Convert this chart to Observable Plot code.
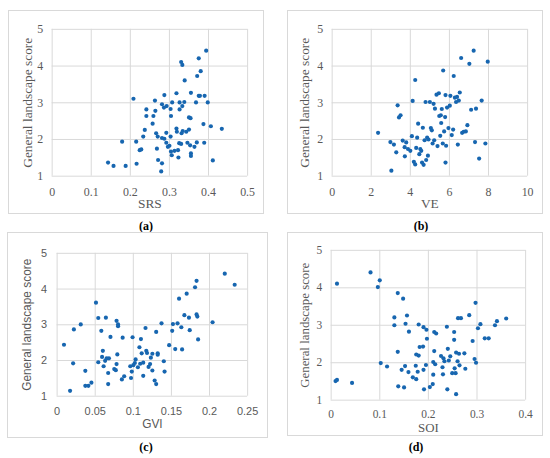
<!DOCTYPE html>
<html>
<head>
<meta charset="utf-8">
<script src="https://cdn.jsdelivr.net/npm/d3@7"></script>
<script src="https://cdn.jsdelivr.net/npm/@observablehq/plot@0.6"></script>
<style>
  html, body { margin: 0; padding: 0; background: #fff; }
  #root { position: relative; width: 550px; height: 458px; overflow: hidden; background: #fff; }
  .panel { position: absolute; border: 1px solid #d9d9d9; box-sizing: border-box; background: #fff; }
  .panel svg { position: absolute; left: -1px; top: -1px; }
  .tag { position: absolute; width: 60px; text-align: center; font-family: "Liberation Serif", serif; font-weight: bold; font-size: 12px; color: #000; }
</style>
</head>
<body>
<div id="root"></div>
<script>
// ---------- data ----------
const yTicks = [1, 2, 3, 4, 5];
const yLabel = "General landscape score";

// (a) SRS
const srsTicks = [0, 0.1, 0.2, 0.3, 0.4, 0.5];
const srsX = [0.143,0.157,0.188,0.179,0.208,0.215,0.216,0.224,0.228,0.233,0.237,0.241,0.241,0.257,0.259,0.263,0.264,0.266,0.270,0.268,0.271,0.281,0.279,0.281,0.281,0.287,0.286,0.287,0.292,0.292,0.293,0.296,0.300,0.303,0.303,0.304,0.304,0.306,0.307,0.313,0.318,0.318,0.319,0.322,0.323,0.325,0.326,0.326,0.330,0.331,0.330,0.333,0.333,0.334,0.338,0.339,0.343,0.346,0.350,0.350,0.354,0.353,0.355,0.355,0.355,0.364,0.368,0.370,0.371,0.375,0.375,0.378,0.380,0.387,0.389,0.390,0.394,0.398,0.406,0.411,0.434];
const srsY = [1.37,1.28,1.28,1.94,3.11,1.94,1.34,1.71,1.73,2.08,2.26,2.82,2.64,2.43,2.64,3.06,2.78,2.17,2.08,1.75,1.44,1.35,1.13,2.96,2.04,3.21,2.87,2.02,2.18,1.91,2.91,1.80,1.83,2.08,2.83,2.64,1.67,1.57,3.01,1.69,3.26,2.30,2.21,1.71,1.51,1.90,3.01,2.82,1.88,2.17,4.11,4.03,2.91,2.23,3.02,3.61,2.21,1.91,2.27,2.60,2.58,1.84,1.62,1.55,3.27,1.80,3.01,1.92,3.73,4.21,3.19,3.19,3.86,2.42,1.91,3.19,4.42,3.01,2.36,1.43,2.29];

// (b) VE
const veTicks = [0, 2, 4, 6, 8, 10];
const veX = [2.35,3.03,2.98,3.16,3.28,3.35,3.42,3.50,3.61,3.71,3.72,3.79,3.88,4.00,4.08,4.12,4.18,4.25,4.25,4.30,4.35,4.40,4.46,4.51,4.56,4.60,4.64,4.68,4.73,4.78,4.81,4.86,4.90,4.93,5.00,5.05,5.10,5.14,5.19,5.22,5.26,5.34,5.39,5.46,5.48,5.53,5.56,5.58,5.61,5.66,5.68,5.73,5.78,5.80,5.80,5.83,5.88,5.95,6.02,6.05,6.12,6.19,6.22,6.28,6.34,6.39,6.43,6.48,6.53,6.60,6.65,6.73,6.84,6.92,7.02,7.11,7.24,7.31,7.36,7.52,7.65,7.84,7.96];
const veY = [2.18,1.15,1.93,1.86,1.65,2.93,2.60,2.66,1.97,1.79,1.54,1.92,1.74,1.69,2.09,3.05,1.39,1.32,3.62,1.77,2.05,2.43,1.60,1.74,1.69,1.37,2.32,1.31,1.98,3.02,1.44,2.05,1.56,2.00,3.02,2.31,2.25,1.89,2.97,1.98,2.84,3.22,1.82,3.26,2.64,2.10,2.66,2.45,2.83,1.89,3.88,2.22,2.61,3.21,1.37,1.83,2.87,2.31,2.92,3.19,2.12,2.27,3.73,3.14,3.02,3.16,1.86,3.06,3.28,4.22,2.18,2.21,2.22,2.39,4.06,2.81,4.42,1.93,2.84,1.48,3.06,1.89,4.12];

// (c) GVI
const gviTicks = [0, 0.05, 0.1, 0.15, 0.2, 0.25];
const gviX = [0.009,0.017,0.021,0.022,0.031,0.037,0.037,0.041,0.045,0.051,0.054,0.054,0.058,0.059,0.060,0.061,0.063,0.064,0.065,0.067,0.067,0.068,0.070,0.075,0.077,0.078,0.078,0.080,0.080,0.079,0.086,0.085,0.088,0.096,0.097,0.098,0.099,0.100,0.102,0.103,0.106,0.108,0.110,0.109,0.111,0.113,0.113,0.116,0.117,0.118,0.120,0.122,0.123,0.125,0.125,0.128,0.130,0.130,0.132,0.132,0.137,0.140,0.141,0.147,0.151,0.152,0.155,0.158,0.160,0.163,0.164,0.167,0.170,0.173,0.174,0.181,0.183,0.183,0.184,0.185,0.204,0.220,0.233];
const gviY = [2.44,1.15,1.92,2.87,3.01,1.71,1.29,1.29,1.38,3.62,3.19,1.95,2.83,2.10,2.27,1.84,1.99,3.20,2.06,1.65,1.34,2.06,2.66,1.76,1.73,1.90,3.11,2.96,3.01,2.17,2.64,1.47,1.56,1.84,1.51,1.69,2.65,1.87,1.93,2.03,1.81,2.37,2.60,1.91,2.20,1.94,1.57,2.91,2.27,2.21,1.82,1.90,2.08,2.19,1.72,1.44,1.34,2.80,2.20,2.16,3.04,1.98,1.69,2.43,2.83,3.02,2.32,3.04,3.73,2.93,2.31,3.27,3.87,3.20,2.85,4.05,4.23,3.29,3.23,2.59,3.07,4.43,4.12];

// (d) SOI
const soiTicks = [0, 0.1, 0.2, 0.3, 0.4];
const soiX = [0.009,0.012,0.012,0.043,0.081,0.096,0.100,0.102,0.115,0.130,0.130,0.137,0.137,0.138,0.145,0.148,0.150,0.152,0.153,0.156,0.159,0.160,0.168,0.174,0.175,0.175,0.178,0.180,0.180,0.182,0.189,0.190,0.190,0.191,0.195,0.196,0.197,0.203,0.209,0.210,0.210,0.212,0.212,0.214,0.216,0.226,0.229,0.230,0.231,0.233,0.238,0.239,0.240,0.242,0.245,0.249,0.253,0.253,0.254,0.256,0.257,0.257,0.260,0.261,0.263,0.264,0.267,0.274,0.276,0.284,0.291,0.295,0.297,0.298,0.302,0.307,0.316,0.324,0.337,0.341,0.360];
const soiY = [1.51,1.54,4.11,1.46,4.41,4.02,4.20,1.99,1.90,3.00,3.21,2.29,3.86,1.37,1.81,3.71,1.34,1.91,3.04,3.26,1.75,2.83,1.61,1.92,2.22,1.56,1.76,2.19,3.02,2.42,2.43,2.95,1.81,1.29,1.94,2.88,2.64,1.35,1.43,1.68,2.02,2.31,2.82,1.96,2.78,2.18,1.88,1.69,2.12,2.04,2.96,1.29,2.37,2.06,2.17,1.72,2.82,2.61,1.85,1.72,2.27,1.16,2.04,3.19,2.24,1.93,3.19,2.25,1.84,3.27,2.58,2.10,3.60,2.00,2.92,3.03,2.65,2.65,3.00,3.11,3.18];

// ---------- drawing ----------
const root = document.getElementById("root");
const dotColor = "#1766b0";
const gridColor = "#d9d9d9";

function panel(cfg) {
  const box = document.createElement("div");
  box.className = "panel";
  Object.assign(box.style, {left: cfg.left + "px", top: cfg.top + "px", width: cfg.w + "px", height: cfg.h + "px"});
  const data = cfg.xs.map((x, i) => ({x, y: cfg.ys[i]}));
  const chart = Plot.plot({
    width: cfg.w, height: cfg.h,
    marginLeft: cfg.ml, marginRight: cfg.mr, marginTop: cfg.mt, marginBottom: cfg.mb,
    style: {fontFamily: cfg.font, fontSize: cfg.tickSize + "px", color: "#595959", background: "transparent", overflow: "visible"},
    x: {domain: cfg.xDomain, ticks: cfg.xTicks},
    y: {domain: [1, 5], ticks: yTicks},
    marks: [
      Plot.ruleX(cfg.xTicks, {x: d => d, stroke: gridColor, strokeWidth: 1}),
      Plot.ruleY(yTicks, {y: d => d, stroke: gridColor, strokeWidth: 1}),
      Plot.axisX(cfg.xTicks, {tickSize: 0, tickPadding: cfg.xPad, label: cfg.xLabel, labelAnchor: "center", labelArrow: "none", labelOffset: cfg.xLabOff, tickFormat: d => String(d)}),
      Plot.axisY(yTicks, {tickSize: 0, tickPadding: cfg.yPad, label: yLabel, labelAnchor: "center", labelArrow: "none", labelOffset: cfg.yLabOff, tickFormat: d => String(d)}),
      Plot.dot(data, {x: "x", y: "y", r: 2.1, fill: dotColor, stroke: "none"})
    ]
  });
  chart.querySelectorAll("text").forEach(t => { t.style.fontFamily = cfg.font; });
  chart.querySelectorAll('[aria-label="x-axis label"] text, [aria-label="y-axis label"] text').forEach(t => {
    t.style.fontSize = cfg.labelSize + "px";
  });
  box.appendChild(chart);
  root.appendChild(box);
  const tag = document.createElement("div");
  tag.className = "tag";
  tag.textContent = cfg.tag;
  Object.assign(tag.style, {left: (cfg.tagX - 30) + "px", top: (cfg.tagY - 8) + "px"});
  root.appendChild(tag);
}

const serif = "'Liberation Serif', 'DejaVu Serif', serif";
const sans = "'Liberation Sans', Arial, sans-serif";

panel({left: 8, top: 10, w: 256, h: 204, ml: 44, mr: 15, mt: 19, mb: 37,
  xs: srsX, ys: srsY, xDomain: [0, 0.5], xTicks: srsTicks, xLabel: "SRS",
  font: serif, tickSize: 12, labelSize: 13.5, xPad: 11, yPad: 9, xLabOff: 32, yLabOff: 30,
  tag: "(a)", tagX: 146, tagY: 227});

panel({left: 287, top: 10, w: 256, h: 204, ml: 45, mr: 14, mt: 19, mb: 37,
  xs: veX, ys: veY, xDomain: [0, 10], xTicks: veTicks, xLabel: "VE",
  font: serif, tickSize: 12, labelSize: 13.5, xPad: 11, yPad: 9, xLabOff: 32, yLabOff: 33,
  tag: "(b)", tagX: 421, tagY: 227});

panel({left: 7, top: 232, w: 261, h: 206, ml: 50, mr: 19, mt: 21, mb: 41,
  xs: gviX, ys: gviY, xDomain: [0, 0.25], xTicks: gviTicks, xLabel: "GVI",
  font: sans, tickSize: 11, labelSize: 12, xPad: 11, yPad: 10, xLabOff: 32, yLabOff: 35,
  tag: "(c)", tagX: 146, tagY: 448});

panel({left: 287, top: 232, w: 256, h: 204, ml: 44, mr: 16, mt: 18, mb: 35,
  xs: soiX, ys: soiY, xDomain: [0, 0.4], xTicks: soiTicks, xLabel: "SOI",
  font: serif, tickSize: 11.5, labelSize: 13, xPad: 10, yPad: 9, xLabOff: 32, yLabOff: 32,
  tag: "(d)", tagX: 416, tagY: 448});
</script>
</body>
</html>
